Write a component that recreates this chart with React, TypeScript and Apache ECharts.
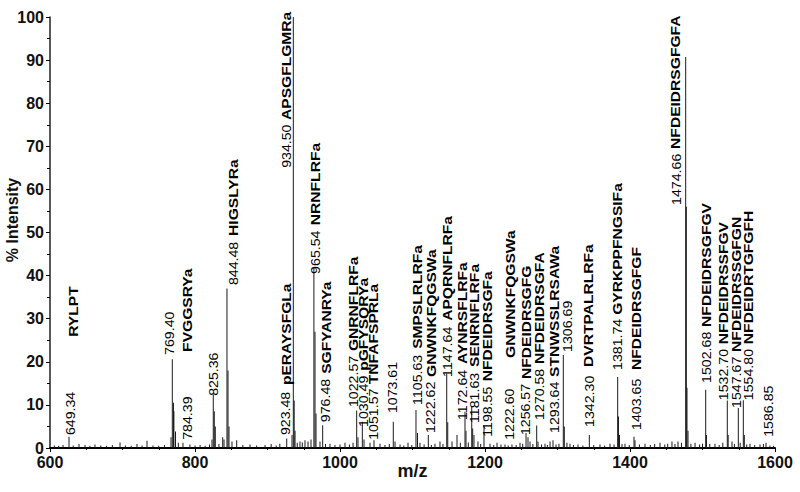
import React, { useEffect, useRef } from "react";
import * as echarts from "echarts";

// Spectrum sticks (m/z, % intensity)
const peakMz = [
  606, 612, 618, 626.2, 632, 640, 648.3, 655, 662, 670, 678, 686, 696.6, 704, 712, 720, 727, 733.8, 742, 750, 758,
  766.9, 768.7, 770.3, 770.9, 773.1, 777, 783.4, 793, 800, 807, 814, 820, 823.4, 825.2, 826.6, 828, 833,
  838.2, 840, 844.1, 845.5, 846.9, 851, 857.5, 866, 875.9, 885, 896.6, 905, 912, 917, 926.5, 933.8, 935.6,
  936.8, 938, 941, 944.8, 948, 951.7, 955.9, 960, 964, 965.5, 966.9, 972.4, 976.1, 980, 986.2, 993, 1000, 1006.9,
  1013, 1018, 1023, 1024.8, 1030.8, 1033.1, 1041.4, 1046.9, 1055.2, 1062, 1068, 1073.5, 1075.9, 1082.8, 1088,
  1093.8, 1099, 1104.8, 1106.9, 1110.3, 1116, 1121.8, 1126, 1131, 1137.9, 1142, 1147.2, 1148.6, 1154.5, 1161.4,
  1166, 1172.4, 1173.8, 1177, 1181.7, 1183, 1184.8, 1190.3, 1194, 1198.6, 1206.9, 1212, 1216.6, 1222, 1227.6,
  1232, 1237.2, 1243, 1248.3, 1252, 1256.6, 1259.3, 1262.1, 1266, 1271.3, 1273.1, 1278, 1282.8, 1286, 1289.7,
  1293.8, 1298, 1302, 1308, 1309.4, 1313, 1317.2, 1322, 1328.3, 1335, 1343.9, 1350, 1358.6, 1365, 1372.4, 1378,
  1383, 1384.1, 1385.5, 1389, 1393.1, 1399, 1405.5, 1406.9, 1413, 1420.7, 1428, 1434, 1441.4, 1448, 1452,
  1457.9, 1462, 1466.2, 1471, 1476.8, 1477.7, 1478.6, 1480, 1484, 1489.7, 1496, 1500, 1504.4, 1505.5, 1510,
  1517.2, 1523, 1528, 1534.2, 1535.4, 1540.7, 1544, 1549.4, 1552, 1556.3, 1557.7, 1561, 1565.5, 1572, 1579.3,
  1584, 1587.6, 1593, 1598,
];
const peakIntensity = [
  0.6, 0.5, 0.7, 2.6, 0.6, 0.9, 0.7, 0.5, 0.8, 0.6, 0.5, 0.7, 1.3, 0.6, 0.5, 0.9, 0.6, 1.7, 0.6, 0.5, 0.7,
  2.5, 20.6, 10.5, 8.5, 3.8, 1.2, 1.2, 0.8, 0.6, 0.7, 0.5, 0.8, 2, 12.5, 8.5, 5, 0.9,
  2.5, 2, 37, 18, 5, 1.5, 1.8, 0.7, 0.8, 0.6, 0.7, 0.9, 0.6, 1, 2.2, 3, 100,
  11, 4, 1.2, 1.5, 1.3, 1.8, 1.5, 2, 42, 27, 8, 1.5, 5.3, 0.9, 1, 0.7, 0.8, 1.2,
  0.8, 1.2, 8.7, 2.5, 6.1, 2, 1.2, 1.8, 1, 0.7, 0.9, 6.1, 1.5, 0.8, 0.6,
  1.2, 0.7, 8.8, 3.5, 1.2, 0.8, 3, 0.7, 1, 1.5, 0.9, 17.3, 6, 1.5, 3,
  1.2, 8.4, 4, 1.3, 9.6, 4.5, 3, 1.5, 0.9, 5.3, 1, 0.7, 1.2, 0.8, 0.8,
  0.6, 0.8, 0.7, 1.2, 1, 3.5, 2.5, 1.5, 0.9, 5.2, 1.5, 0.8, 1, 0.7, 1.5,
  1.8, 0.8, 1, 21.6, 5, 1.2, 1, 0.7, 0.8, 0.6, 3, 0.7, 0.8, 0.6, 1, 0.8,
  16.5, 7.3, 3, 0.9, 1, 0.7, 2.6, 1.8, 0.8, 1, 0.7, 0.9, 1.2, 0.8, 1,
  1.5, 0.9, 1.5, 1.2, 90.7, 56, 14, 4, 1, 1.2, 0.8, 1, 13.5, 3, 0.9,
  1, 0.7, 1.2, 11, 3, 1.5, 0.9, 9.3, 1.2, 11.1, 3, 0.8, 1, 0.7, 0.8,
  0.9, 1.2, 0.6, 0.5,
];

// m/z labels (regular) with the point where each label starts
const numberText = [
  "649.34", "769.40", "784.39", "825.36", "844.48", "923.48", "934.50", "965.54", "976.48", "1022.57",
  "1030.49", "1051.57", "1073.61", "1105.63", "1222.62", "1147.64", "1172.64", "1181.63", "1198.55",
  "1222.60", "1256.57", "1270.58", "1293.64", "1306.69", "1342.30", "1381.74", "1403.65", "1474.66",
  "1502.68", "1532.70", "1547.67", "1554.80", "1586.85",
];
const numberMz = [
  627.6, 764.1, 789.0, 824.8, 852.4, 924.1, 925.5, 965.5, 979.3, 1017.9,
  1031.7, 1045.5, 1071.7, 1106.2, 1124.1, 1147.6, 1168.3, 1184.8, 1202.8,
  1233.1, 1255.2, 1274.5, 1295.2, 1313.1, 1343.4, 1382.1, 1408.3, 1463.4,
  1504.8, 1528.3, 1546.2, 1562.8, 1590.3,
];
const numberBase = [
  3.0, 21.6, 1.9, 12.1, 37.8, 3.0, 65.0, 40.4, 6.0, 9.5,
  4.9, 1.9, 8.1, 10.0, 3.5, 16.5, 6.5, 5.8, 2.6,
  1.9, 3.0, 6.5, 3.5, 22.3, 4.9, 18.1, 4.2, 56.4,
  15.1, 11.1, 9.3, 11.1, 2.6,
];

// peptide sequence labels (bold)
const nameText = [
  "RYLPT", "FVGGSRYa", "HIGSLYRa", "pERAYSFGLa", "APSGFLGMRa", "NRNFLRFa", "SGFYANRYa", "GNRNFLRFa",
  "pGFYSQRYa", "TNFAFSPRLa", "SMPSLRLRFa", "GNWNKFQGSWa", "APQRNFLRFa", "AYNRSFLRFa", "SENRNFLRFa",
  "NFDEIDRSGFa", "GNWNKFQGSWa", "NFDEIDRSGFG", "NFDEIDRSGFA", "STNWSSLRSAWa", "DVRTPALRLRFa",
  "GYRKPPFNGSIFa", "NFDEIDRSGFGF", "NFDEIDRSGFGFA", "NFDEIDRSGFGV", "NFDEIDRSSFGV", "NFDEIDRSSGFGN",
  "NFDEIDRTGFGFH",
];
const nameMz = [
  631.7, 789.0, 852.4, 925.5, 925.5, 965.5, 980.7, 1017.9,
  1031.7, 1045.5, 1106.2, 1125.5, 1147.6, 1168.3, 1184.8,
  1202.8, 1234.5, 1256.6, 1274.5, 1295.2, 1343.4,
  1383.4, 1408.3, 1463.4, 1504.8, 1528.3, 1546.2,
  1562.8,
];
const nameBase = [
  25.8, 22.3, 49.2, 14.6, 76.1, 51.7, 17.2, 22.5,
  17.9, 14.8, 23.0, 16.5, 29.5, 19.5, 18.8,
  15.5, 20.9, 16.0, 19.5, 16.5, 18.8,
  30.9, 18.1, 69.4, 28.1, 24.1, 22.3,
  24.1,
];

const FONT = "'Liberation Sans', Arial, Helvetica, sans-serif";

function labelSeries(mz: number[], base: number[], texts: string[], font: string, stretch: number) {
  return {
    type: "custom",
    data: mz.map((m, i) => [m, base[i]]),
    silent: true,
    clip: false,
    z: 5,
    renderItem: (params: any, api: any) => {
      const pt = api.coord([api.value(0), api.value(1)]);
      return {
        type: "text",
        x: pt[0],
        y: pt[1],
        rotation: Math.PI / 2,
        scaleX: stretch,
        style: {
          text: texts[params.dataIndex],
          fill: "#000",
          font,
          align: "left",
          verticalAlign: "middle",
        },
      };
    },
  };
}

export default function App() {
  const ref = useRef<HTMLDivElement>(null);
  useEffect(() => {
    if (!ref.current) return;
    const chart = echarts.init(ref.current, null, { renderer: "svg" });
    const axisLabel = {
      color: "#111",
      fontFamily: FONT,
      fontWeight: "bold",
      fontSize: 16,
      margin: 6,
      formatter: (v: number) => String(v),
    };
    chart.setOption({
      animation: false,
      backgroundColor: "#fff",
      grid: { left: 50, right: 25, top: 17, bottom: 44, containLabel: false, outerBoundsMode: "none" },
      graphic: [
        {
          type: "text",
          x: 12,
          y: 220,
          rotation: Math.PI / 2,
          silent: true,
          style: {
            text: "% Intensity",
            fill: "#111",
            font: "bold 16px 'Liberation Sans', Arial, sans-serif",
            align: "center",
            verticalAlign: "middle",
          },
        },
      ],
      xAxis: {
        type: "value",
        min: 600,
        max: 1600,
        interval: 200,
        axisLine: { show: true, onZero: false, lineStyle: { color: "#000", width: 2 } },
        axisTick: { show: true, length: 4, lineStyle: { color: "#000", width: 1 } },
        minorTick: { show: true, splitNumber: 4, length: 2, lineStyle: { color: "#000" } },
        splitLine: { show: false },
        axisLabel,
        name: "m/z",
        nameLocation: "middle",
        nameGap: 14,
        nameMoveOverlap: false,
        nameTextStyle: { color: "#111", fontFamily: FONT, fontWeight: "bold", fontSize: 18, verticalAlign: "top" },
      },
      yAxis: {
        type: "value",
        min: 0,
        max: 100,
        interval: 10,
        axisLine: { show: true, lineStyle: { color: "#222", width: 1.5 } },
        axisTick: { show: true, length: 4, lineStyle: { color: "#000", width: 1 } },
        minorTick: { show: true, splitNumber: 2, length: 3, lineStyle: { color: "#000" } },
        splitLine: { show: false },
        axisLabel,
      },
      series: [
        {
          type: "bar",
          data: peakMz.map((m, i) => [m, peakIntensity[i]]),
          barWidth: 1,
          itemStyle: { color: "#1a1a1a" },
          silent: true,
          z: 2,
        },
        labelSeries(numberMz, numberBase, numberText, "13.5px 'Liberation Sans', Arial, sans-serif", 1.05),
        labelSeries(nameMz, nameBase, nameText, "bold 13px 'Liberation Sans', Arial, sans-serif", 1.2),
      ],
    });
    return () => chart.dispose();
  }, []);
  return <div ref={ref} style={{ position: "absolute", left: 0, top: 0, width: 800, height: 492 }} />;
}
